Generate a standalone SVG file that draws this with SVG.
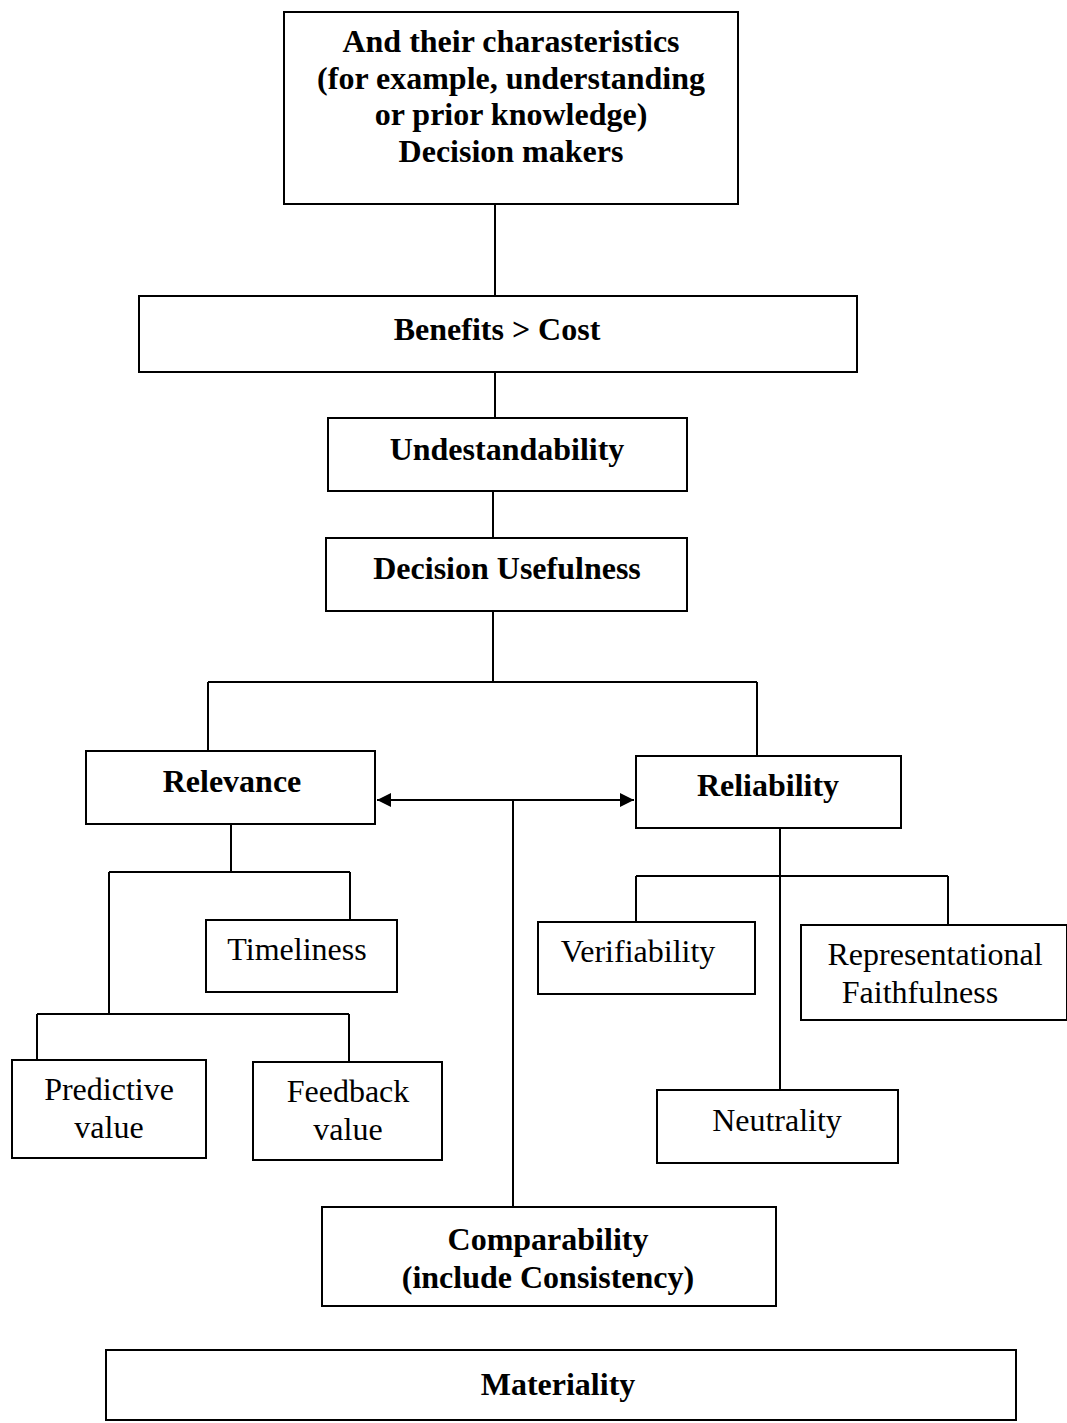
<svg xmlns="http://www.w3.org/2000/svg" width="1067" height="1423" viewBox="0 0 1067 1423">
<style>
rect{fill:#fff;stroke:#000;stroke-width:2}
.c{fill:none;stroke:#000;stroke-width:2}
text{font-family:"Liberation Serif","Times New Roman",serif;font-size:32px;text-anchor:middle;fill:#000}
.b{font-weight:bold}
</style>
<defs>
<marker id="ah" viewBox="0 0 10 10" refX="10" refY="5" markerWidth="18" markerHeight="14" markerUnits="userSpaceOnUse" orient="auto-start-reverse"><path d="M0,0L10,5L0,10z" fill="#000"/></marker>
</defs>
<g id="connectors">
<path class="c" d="M495,204V296M495,372V418M493,491V538M493,611V682M208,682H757M208,682V751M757,682V756"/>
<path class="c" d="M231,824V872M109,872H350M350,872V920M109,872V1014M37,1014H349M37,1014V1060M349,1014V1062"/>
<path class="c" d="M377,800H634" marker-start="url(#ah)" marker-end="url(#ah)"/>
<path class="c" d="M513,800V1207"/>
<path class="c" d="M780,828V1090M636,876H948M636,876V922M948,876V925"/>
</g>
<g id="decision-makers"><rect x="284" y="12" width="454" height="192"/>
<text class="b" x="511" y="52">And their charasteristics</text>
<text class="b" x="511" y="89">(for example, understanding</text>
<text class="b" x="511" y="125">or prior knowledge)</text>
<text class="b" x="511" y="162">Decision makers</text></g>
<g id="benefits"><rect x="139" y="296" width="718" height="76"/><text class="b" x="497" y="340">Benefits &gt; Cost</text></g>
<g id="understandability"><rect x="328" y="418" width="359" height="73"/><text class="b" x="507" y="460">Undestandability</text></g>
<g id="decision-usefulness"><rect x="326" y="538" width="361" height="73"/><text class="b" x="507" y="579">Decision Usefulness</text></g>
<g id="relevance"><rect x="86" y="751" width="289" height="73"/><text class="b" x="232" y="792">Relevance</text></g>
<g id="reliability"><rect x="636" y="756" width="265" height="72"/><text class="b" x="768" y="796">Reliability</text></g>
<g id="timeliness"><rect x="206" y="920" width="191" height="72"/><text x="297" y="960">Timeliness</text></g>
<g id="verifiability"><rect x="538" y="922" width="217" height="72"/><text x="638" y="962">Verifiability</text></g>
<g id="representational-faithfulness"><rect x="801" y="925" width="266" height="95"/><text x="935" y="965">Representational</text><text x="920" y="1003">Faithfulness</text></g>
<g id="predictive-value"><rect x="12" y="1060" width="194" height="98"/><text x="109" y="1100">Predictive</text><text x="109" y="1138">value</text></g>
<g id="feedback-value"><rect x="253" y="1062" width="189" height="98"/><text x="348" y="1102">Feedback</text><text x="348" y="1140">value</text></g>
<g id="neutrality"><rect x="657" y="1090" width="241" height="73"/><text x="777" y="1131">Neutrality</text></g>
<g id="comparability"><rect x="322" y="1207" width="454" height="99"/><text class="b" x="548" y="1250">Comparability</text><text class="b" x="548" y="1288">(include Consistency)</text></g>
<g id="materiality"><rect x="106" y="1350" width="910" height="70"/><text class="b" x="558" y="1395">Materiality</text></g>
</svg>
